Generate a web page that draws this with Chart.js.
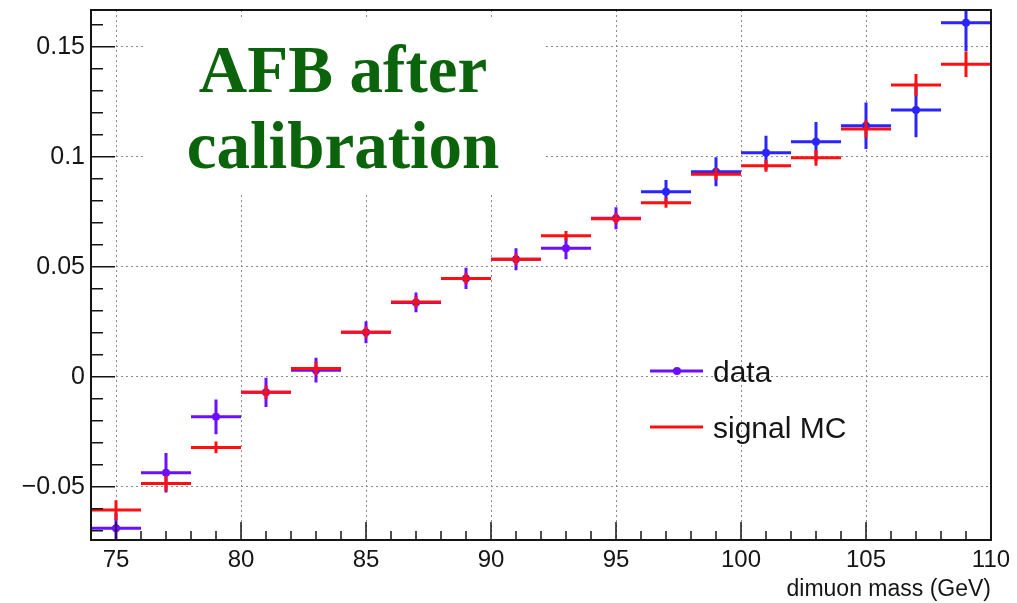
<!DOCTYPE html>
<html>
<head>
<meta charset="utf-8">
<script src="https://cdn.jsdelivr.net/npm/chart.js@4.4.1/dist/chart.umd.min.js"></script>
<style>
  html, body { margin: 0; padding: 0; background: #fff; }
  #wrap { width: 1017px; height: 603px; }
</style>
</head>
<body>
<div id="wrap"><canvas id="afb" width="1017" height="603"></canvas></div>
<script>
// bins of 2 GeV, 74 -> 110
const binCenters = [75, 77, 79, 81, 83, 85, 87, 89, 91, 93, 95, 97, 99, 101, 103, 105, 107, 109];
const binHalfWidth = 1;

const dataValues = [-0.0689, -0.0436, -0.0182, -0.0071, 0.0030, 0.0202, 0.0338, 0.0447, 0.0534,
                    0.0584, 0.0720, 0.0841, 0.0932, 0.1018, 0.1068, 0.1141, 0.1212, 0.1609];
const dataErrors = [0.0070, 0.0090, 0.0079, 0.0066, 0.0056, 0.0050, 0.0045, 0.0048, 0.0050,
                    0.0050, 0.0050, 0.0053, 0.0066, 0.0077, 0.0090, 0.0106, 0.0123, 0.0130];

const mcValues = [-0.0606, -0.0485, -0.0321, -0.0071, 0.0038, 0.0202, 0.0340, 0.0447, 0.0534,
                  0.0641, 0.0718, 0.0791, 0.0921, 0.0959, 0.0995, 0.1126, 0.1326, 0.1420];
const mcErrors = [0.0045, 0.0035, 0.0027, 0.0030, 0.0030, 0.0025, 0.0025, 0.0025, 0.0025,
                  0.0022, 0.0025, 0.0023, 0.0027, 0.0027, 0.0036, 0.0040, 0.0050, 0.0058];

const xTicks = [75, 80, 85, 90, 95, 100, 105, 110];
const xTickLabels = ['75', '80', '85', '90', '95', '100', '105', '110'];
const yTicks = [-0.05, 0, 0.05, 0.1, 0.15];
const yTickLabels = ['\u22120.05', '0', '0.05', '0.1', '0.15'];

const PURPLE = '#6a10ff';
const BLUE = '#2a24ff';
const RED = '#ff1010';
const GREEN = '#0b640b';
const INK = '#151515';

function dataColor(x) {
    return x < 96 ? PURPLE : BLUE;
}

// error bars: x = bin width, y = stat error
const errorBars = {
    id: 'errorBars',
    afterDatasetsDraw(chart) {
        const { ctx, chartArea: a, scales: { x, y } } = chart;
        ctx.save();
        ctx.beginPath();
        ctx.rect(a.left, a.top, a.right - a.left, a.bottom - a.top);
        ctx.clip();
        ctx.lineWidth = 3;
        const draw = (vals, errs, colorFn) => {
            binCenters.forEach((c, i) => {
                const px = x.getPixelForValue(c);
                const py = y.getPixelForValue(vals[i]);
                ctx.strokeStyle = colorFn(c);
                ctx.beginPath();
                ctx.moveTo(x.getPixelForValue(c - binHalfWidth), py);
                ctx.lineTo(x.getPixelForValue(c + binHalfWidth), py);
                ctx.moveTo(px, y.getPixelForValue(vals[i] + errs[i]));
                ctx.lineTo(px, y.getPixelForValue(vals[i] - errs[i]));
                ctx.stroke();
            });
        };
        draw(dataValues, dataErrors, dataColor);
        draw(mcValues, mcErrors, () => RED);
        ctx.restore();
    }
};

// white pave with the green title, covers the grid
const titlePave = {
    id: 'titlePave',
    beforeDatasetsDraw(chart) {
        const { ctx } = chart;
        ctx.save();
        ctx.fillStyle = '#fff';
        ctx.fillRect(145, 17, 398, 178);
        ctx.fillStyle = GREEN;
        ctx.font = 'bold 67px "Liberation Serif", "Times New Roman", serif';
        ctx.textAlign = 'center';
        ctx.textBaseline = 'alphabetic';
        ctx.fillText('AFB after', 343, 92);
        ctx.fillText('calibration', 343, 168);
        ctx.restore();
    }
};

// frame, ROOT style inner ticks, legend
const frameAndLegend = {
    id: 'frameAndLegend',
    afterDraw(chart) {
        const { ctx, chartArea: a, scales: { x, y } } = chart;
        ctx.save();
        ctx.strokeStyle = INK;
        ctx.lineWidth = 1.5;
        ctx.beginPath();
        for (let v = Math.ceil(x.min); v <= x.max; v++) {
            const px = x.getPixelForValue(v);
            const len = v % 5 === 0 ? 18 : 9;
            ctx.moveTo(px, a.bottom);
            ctx.lineTo(px, a.bottom - len);
        }
        for (let k = Math.ceil(y.min * 100); k <= Math.floor(y.max * 100); k++) {
            const py = y.getPixelForValue(k / 100);
            const len = k % 5 === 0 ? 24 : 12;
            ctx.moveTo(a.left, py);
            ctx.lineTo(a.left + len, py);
        }
        ctx.stroke();

        ctx.lineWidth = 2;
        ctx.strokeRect(a.left, a.top, a.right - a.left, a.bottom - a.top);

        // legend
        ctx.lineWidth = 3;
        ctx.strokeStyle = PURPLE;
        ctx.beginPath();
        ctx.moveTo(650, 371);
        ctx.lineTo(703, 371);
        ctx.stroke();
        ctx.fillStyle = PURPLE;
        ctx.beginPath();
        ctx.arc(677, 371, 4, 0, Math.PI * 2);
        ctx.fill();
        ctx.strokeStyle = RED;
        ctx.beginPath();
        ctx.moveTo(650, 427);
        ctx.lineTo(703, 427);
        ctx.stroke();

        ctx.fillStyle = INK;
        ctx.font = '30px "Liberation Sans", Arial, sans-serif';
        ctx.textAlign = 'left';
        ctx.textBaseline = 'middle';
        ctx.fillText('data', 713, 374);
        ctx.fillText('signal MC', 713, 430);
        ctx.restore();
    }
};

const gridStyle = { color: '#8a8a8a', lineWidth: 1, drawTicks: false };

new Chart(document.getElementById('afb'), {
    type: 'scatter',
    data: {
        datasets: [
            {
                label: 'data',
                data: binCenters.map((c, i) => ({ x: c, y: dataValues[i] })),
                pointRadius: 4,
                pointBorderWidth: 0,
                pointBackgroundColor: ctx => dataColor(ctx.raw ? ctx.raw.x : 0),
                showLine: false
            },
            {
                label: 'signal MC',
                data: binCenters.map((c, i) => ({ x: c, y: mcValues[i] })),
                pointRadius: 0,
                showLine: false
            }
        ]
    },
    options: {
        responsive: false,
        animation: false,
        devicePixelRatio: 1,
        layout: { padding: { top: 10, right: 26, left: 0, bottom: 0 } },
        plugins: { legend: { display: false }, tooltip: { enabled: false } },
        scales: {
            x: {
                type: 'linear',
                min: 74,
                max: 110,
                grid: gridStyle,
                border: { display: false, dash: [2, 3] },
                afterBuildTicks: s => { s.ticks = xTicks.map(v => ({ value: v })); },
                afterFit: s => { s.height = 63; s.paddingLeft = 0; s.paddingRight = 0; },
                ticks: {
                    padding: 6,
                    maxRotation: 0,
                    color: INK,
                    font: { family: '"Liberation Sans", Arial, sans-serif', size: 24 },
                    callback: (v) => xTickLabels[xTicks.indexOf(v)] ?? ''
                },
                title: {
                    display: true,
                    text: 'dimuon mass (GeV)',
                    align: 'end',
                    color: INK,
                    padding: { top: 0, bottom: 0 },
                    font: { family: '"Liberation Sans", Arial, sans-serif', size: 23 }
                }
            },
            y: {
                type: 'linear',
                min: -0.0742,
                max: 0.1667,
                grid: gridStyle,
                border: { display: false, dash: [2, 3] },
                afterBuildTicks: s => { s.ticks = yTicks.map(v => ({ value: v })); },
                afterFit: s => { s.width = 91; s.paddingTop = 0; s.paddingBottom = 0; },
                ticks: {
                    padding: 6,
                    color: INK,
                    font: { family: '"Liberation Sans", Arial, sans-serif', size: 25 },
                    callback: (v) => {
                        const i = yTicks.findIndex(t => Math.abs(t - v) < 1e-9);
                        return i >= 0 ? yTickLabels[i] : '';
                    }
                }
            }
        }
    },
    plugins: [titlePave, errorBars, frameAndLegend]
});
</script>
</body>
</html>
